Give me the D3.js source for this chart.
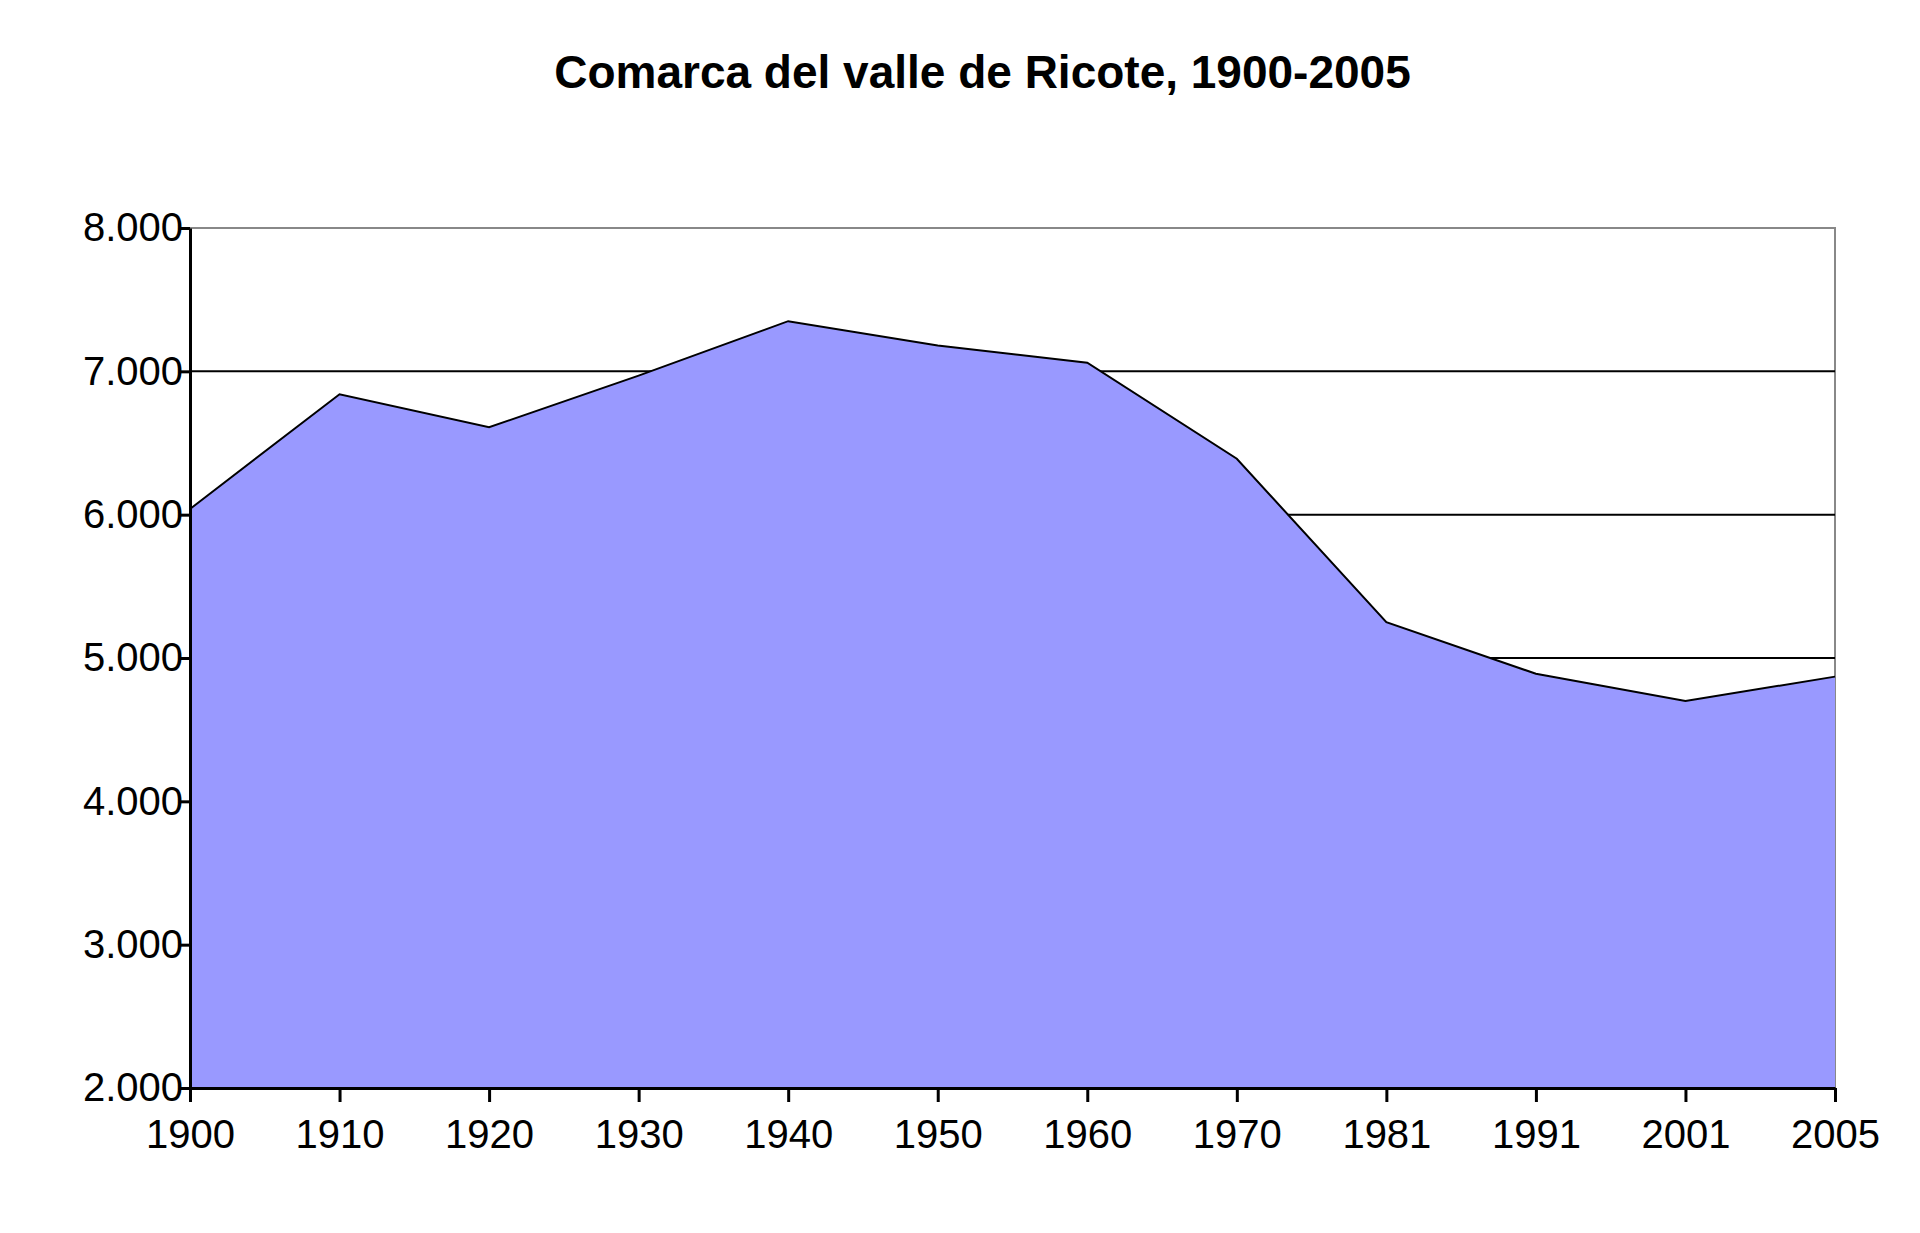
<!DOCTYPE html><html><head><meta charset="utf-8"><script src="https://cdn.jsdelivr.net/npm/d3@7"></script>
<style>body{margin:0;background:#fff}svg{display:block}</style></head><body><script>
const years=["1900","1910","1920","1930","1940","1950","1960","1970","1981","1991","2001","2005"];
const population=[6040,6840,6610,6970,7350,7180,7060,6390,5250,4890,4700,4870];
const yTicks=[2000,3000,4000,5000,6000,7000,8000];
const W=1920,H=1233,L=190,R=1835,T=228,B=1088;
const svg=d3.select("body").append("svg").attr("width",W).attr("height",H).style("font-family","Liberation Sans, Arial, sans-serif");
const x=d3.scalePoint().domain(years).range([L,R]);
const y=d3.scaleLinear().domain([2000,8000]).range([B,T]);
svg.append("text").attr("x",(L+R)/2-30).attr("y",88).attr("text-anchor","middle").attr("font-size",46).attr("font-weight","bold").text("Comarca del valle de Ricote, 1900-2005");
svg.append("rect").attr("x",L).attr("y",T).attr("width",R-L).attr("height",B-T).attr("fill","none").attr("stroke","#888").attr("stroke-width",2);
svg.selectAll(".g").data(yTicks.slice(1,-1)).enter().append("line").attr("x1",L).attr("x2",R).attr("y1",d=>y(d)).attr("y2",d=>y(d)).attr("stroke","#000").attr("stroke-width",2);
const data=years.map((yr,i)=>({yr,v:population[i]}));
svg.append("path").datum(data).attr("fill","#9999ff").attr("d",d3.area().x(d=>x(d.yr)).y0(B).y1(d=>y(d.v)));
svg.append("path").datum(data).attr("fill","none").attr("stroke","#000").attr("stroke-width",2).attr("d",d3.line().x(d=>x(d.yr)).y(d=>y(d.v)));
const fmt=d=>d3.format(",")(d).replace(",",".");
const ya=svg.append("g").attr("transform",`translate(${L},0)`).call(d3.axisLeft(y).tickValues(yTicks).tickFormat(fmt).tickSize(10).tickSizeOuter(0));
const xa=svg.append("g").attr("transform",`translate(0,${B})`).call(d3.axisBottom(x).tickSize(14).tickSizeOuter(0).tickPadding(18));
[ya,xa].forEach(a=>{a.selectAll("path,line").attr("stroke","#000").attr("stroke-width",3);a.selectAll("text").attr("font-size",40).attr("fill","#000").attr("font-family","Liberation Sans, Arial, sans-serif");});
ya.selectAll("text").attr("dx",6);
</script></body></html>
